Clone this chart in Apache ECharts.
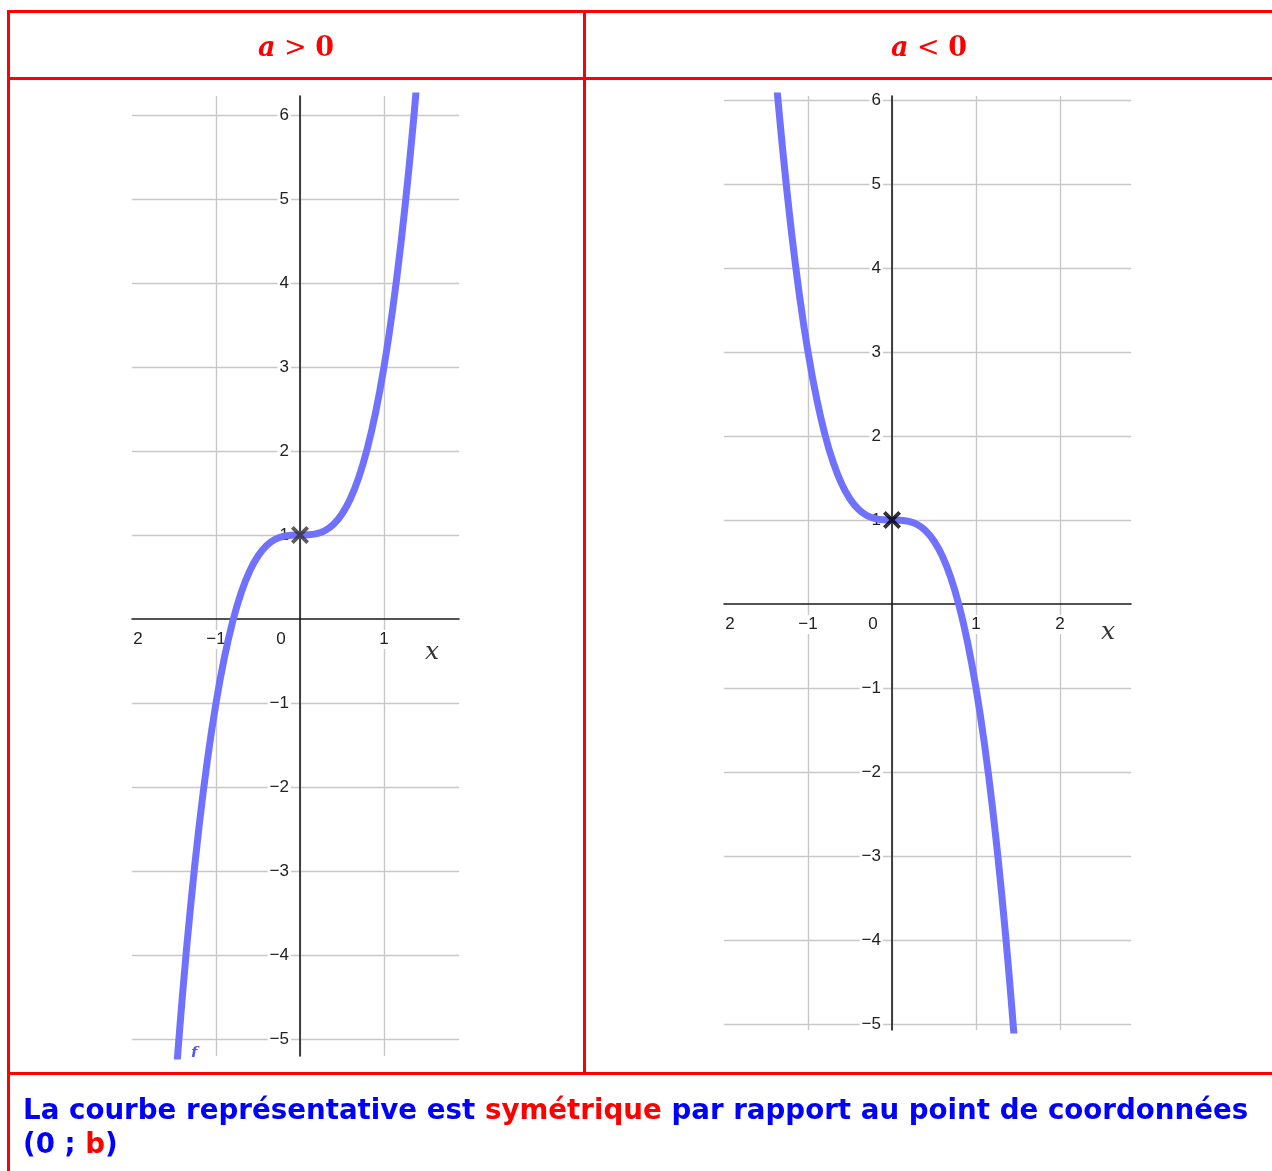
<!DOCTYPE html>
<html>
<head>
<meta charset="utf-8">
<script src="https://cdn.jsdelivr.net/npm/echarts@6/dist/echarts.min.js"></script>
<style>
  html, body { margin: 0; padding: 0; background: #fff; }
  #chart { width: 1272px; height: 1171px; }
</style>
</head>
<body>
<div id="chart"></div>
<script>
// Sample points of the two cubic curves (x values shared)
const curveX = [-1.5, -1.4, -1.3, -1.2, -1.1, -1.0, -0.9, -0.8, -0.7, -0.6, -0.5, -0.4, -0.3, -0.2, -0.1,
                0, 0.1, 0.2, 0.3, 0.4, 0.5, 0.6, 0.7, 0.8, 0.9, 1.0, 1.1, 1.2, 1.3, 1.4, 1.5];
// a > 0 : increasing curve
const curvePositive = [-5.75, -4.488, -3.394, -2.456, -1.662, -1.0, -0.458, -0.024, 0.314, 0.568, 0.75, 0.872, 0.946, 0.984, 0.998,
                       1.0, 1.002, 1.016, 1.054, 1.128, 1.25, 1.432, 1.686, 2.024, 2.458, 3.0, 3.662, 4.456, 5.394, 6.488, 7.75];
// a < 0 : decreasing curve
const curveNegative = [7.75, 6.488, 5.394, 4.456, 3.662, 3.0, 2.458, 2.024, 1.686, 1.432, 1.25, 1.128, 1.054, 1.016, 1.002,
                       1.0, 0.998, 0.984, 0.946, 0.872, 0.75, 0.568, 0.314, -0.024, -0.458, -1.0, -1.662, -2.456, -3.394, -4.488, -5.75];
// Centre of symmetry (0 ; b)
const centerPoint = [0, 1];

// Tick values
const xTicksLeft = [-2, -1, 0, 1];
const xTicksRight = [-2, -1, 0, 1, 2];
const yTicks = [-5, -4, -3, -2, -1, 1, 2, 3, 4, 5, 6];

// Texts
const headerLeft = ['a', ' > ', '0'];
const headerRight = ['a', ' < ', '0'];
const footerParts = [
  ['b', 'La courbe représentative est '],
  ['r', 'symétrique'],
  ['b', ' par rapport au point de coordonnées'],
  ['nl', ''],
  ['b', '(0 ; '],
  ['r', 'b'],
  ['b', ')']
];

const MINUS = '\u2212';
const fmt = v => (v < 0 ? MINUS + Math.abs(v) : String(v));
const pairs = ys => curveX.map((x, i) => [x, ys[i]]);

const tickFont = 'Liberation Sans, Arial, sans-serif';
const tickColor = '#222';
const gridColor = '#c8c8c8';
const axisColor = '#1a1a1a';
const curveColor = '#7171ff';

const crossPath = 'path://M0,1.5 L1.5,0 L5,3.5 L8.5,0 L10,1.5 L6.5,5 L10,8.5 L8.5,10 L5,6.5 L1.5,10 L0,8.5 L3.5,5 Z';

// The axes are shifted onto the origin with offset so labels follow the lines
function xAxisFor(gridIndex, ticks, min, max, offset, nameGap, namePad) {
  return {
    type: 'value', gridIndex, min, max,
    position: 'bottom', offset: offset,
    axisLine: { onZero: false, lineStyle: { color: axisColor, width: 1.6 } },
    axisTick: { show: false, customValues: ticks },
    splitLine: { show: true, showMinLine: false, showMaxLine: true, lineStyle: { color: gridColor, width: 1.4 } },
    axisLabel: {
      customValues: ticks,
      margin: 11,
      formatter: v => {
        if (v === ticks[0]) return '{sp| }{t|' + String(Math.abs(v)) + '}';
        if (v === 0) return '{t|0}{sp0| }';
        return '{t|' + fmt(v) + '}';
      },
      rich: {
        t: { fontSize: 17, fontFamily: tickFont, color: tickColor, backgroundColor: '#fff', padding: [1, 1] },
        sp: { width: 12, fontSize: 17 },
        sp0: { width: 38, fontSize: 17 }
      }
    },
    name: 'x',
    nameLocation: 'end',
    nameGap: nameGap,
    nameTextStyle: {
      fontFamily: 'DejaVu Serif, Liberation Serif, serif', fontStyle: 'italic', fontSize: 25,
      color: '#333', align: 'center', verticalAlign: 'top', padding: [namePad, 0, 0, 0]
    }
  };
}

function yAxisFor(gridIndex, min, max, offset) {
  return {
    type: 'value', gridIndex, min, max,
    position: 'left', offset: offset,
    axisLine: { onZero: false, lineStyle: { color: axisColor, width: 1.6 } },
    axisTick: { show: false, customValues: yTicks },
    splitLine: { show: true, showMinLine: true, showMaxLine: true, lineStyle: { color: gridColor, width: 1.4 } },
    axisLabel: {
      customValues: yTicks,
      margin: 9,
      formatter: v => fmt(v),
      fontSize: 17, fontFamily: tickFont, color: tickColor,
      backgroundColor: '#fff', padding: [1, 2]
    }
  };
}

function curveSeries(idx, ys) {
  return {
    type: 'line', xAxisIndex: idx, yAxisIndex: idx,
    data: pairs(ys), smooth: 0.4, showSymbol: false, symbol: 'none',
    clip: true, silent: true,
    lineStyle: { color: curveColor, width: 7, cap: 'butt' },
    z: 3
  };
}

function markerSeries(idx, color) {
  return {
    type: 'scatter', xAxisIndex: idx, yAxisIndex: idx,
    data: [centerPoint], symbol: crossPath, symbolSize: 18,
    itemStyle: { color: color }, silent: true, z: 5
  };
}

function headerText(cx, parts) {
  return {
    type: 'text', x: cx, y: 49, z: 10,
    style: {
      text: '{ai|' + parts[0] + '}{op|' + parts[1] + '}{n|' + parts[2] + '}',
      align: 'center', verticalAlign: 'middle',
      rich: {
        ai: { fontFamily: 'DejaVu Serif, serif', fontStyle: 'italic', fontWeight: 'bold', fontSize: 27, fill: '#ff0000' },
        op: { fontFamily: 'DejaVu Serif, serif', fontSize: 27, fill: '#ff0000' },
        n: { fontFamily: 'DejaVu Serif, serif', fontWeight: 'bold', fontSize: 27, fill: '#ff0000' }
      }
    }
  };
}

const footerText = footerParts.map(p => p[0] === 'nl' ? '\n' : '{' + p[0] + '|' + p[1] + '}').join('');

const red = '#ff0000';
const borders = [
  { x: 7, y: 10, width: 1270, height: 3 },
  { x: 7, y: 10, width: 3, height: 1165 },
  { x: 7, y: 77, width: 1270, height: 3 },
  { x: 583, y: 10, width: 3, height: 1065 },
  { x: 7, y: 1072, width: 1270, height: 3 }
].map(r => ({ type: 'rect', shape: r, style: { fill: red }, z: 20, silent: true }));

const chart = echarts.init(document.getElementById('chart'), null, { renderer: 'canvas' });
chart.setOption({
  animation: false,
  backgroundColor: '#fff',
  grid: [
    { left: 132, top: 96, width: 327, height: 960 },
    { left: 724, top: 96, width: 407, height: 934 }
  ],
  xAxis: [
    xAxisFor(0, xTicksLeft, -2, 1.893, -437, -27, 21),
    xAxisFor(1, xTicksRight, -2, 2.845, -426, -23, 16)
  ],
  yAxis: [
    yAxisFor(0, -5.202, 6.226, -168),
    yAxisFor(1, -5.071, 6.048, -168)
  ],
  series: [
    curveSeries(0, curvePositive),
    markerSeries(0, '#333'),
    curveSeries(1, curveNegative),
    markerSeries(1, '#000')
  ],
  graphic: [
    ...borders,
    headerText(296, headerLeft),
    headerText(929, headerRight),
    {
      type: 'group', z: 8, children: [
        { type: 'text', x: 191, y: 1046, style: { text: 'f', fontFamily: 'DejaVu Serif, serif', fontStyle: 'italic', fontWeight: 'bold', fontSize: 15, fill: '#5555ff' } },
        { type: 'rect', shape: { x: 180, y: 1057, width: 30, height: 14 }, style: { fill: '#fff' } }
      ]
    },
    {
      type: 'text', x: 23, y: 1095, z: 10,
      style: {
        text: footerText,
        align: 'left', verticalAlign: 'top',
        rich: {
          b: { fontFamily: 'DejaVu Sans, Verdana, sans-serif', fontWeight: 'bold', fontSize: 27.7, lineHeight: 34, fill: '#0000ff' },
          r: { fontFamily: 'DejaVu Sans, Verdana, sans-serif', fontWeight: 'bold', fontSize: 27.7, lineHeight: 34, fill: '#ff0000' }
        }
      }
    }
  ]
});
</script>
</body>
</html>
